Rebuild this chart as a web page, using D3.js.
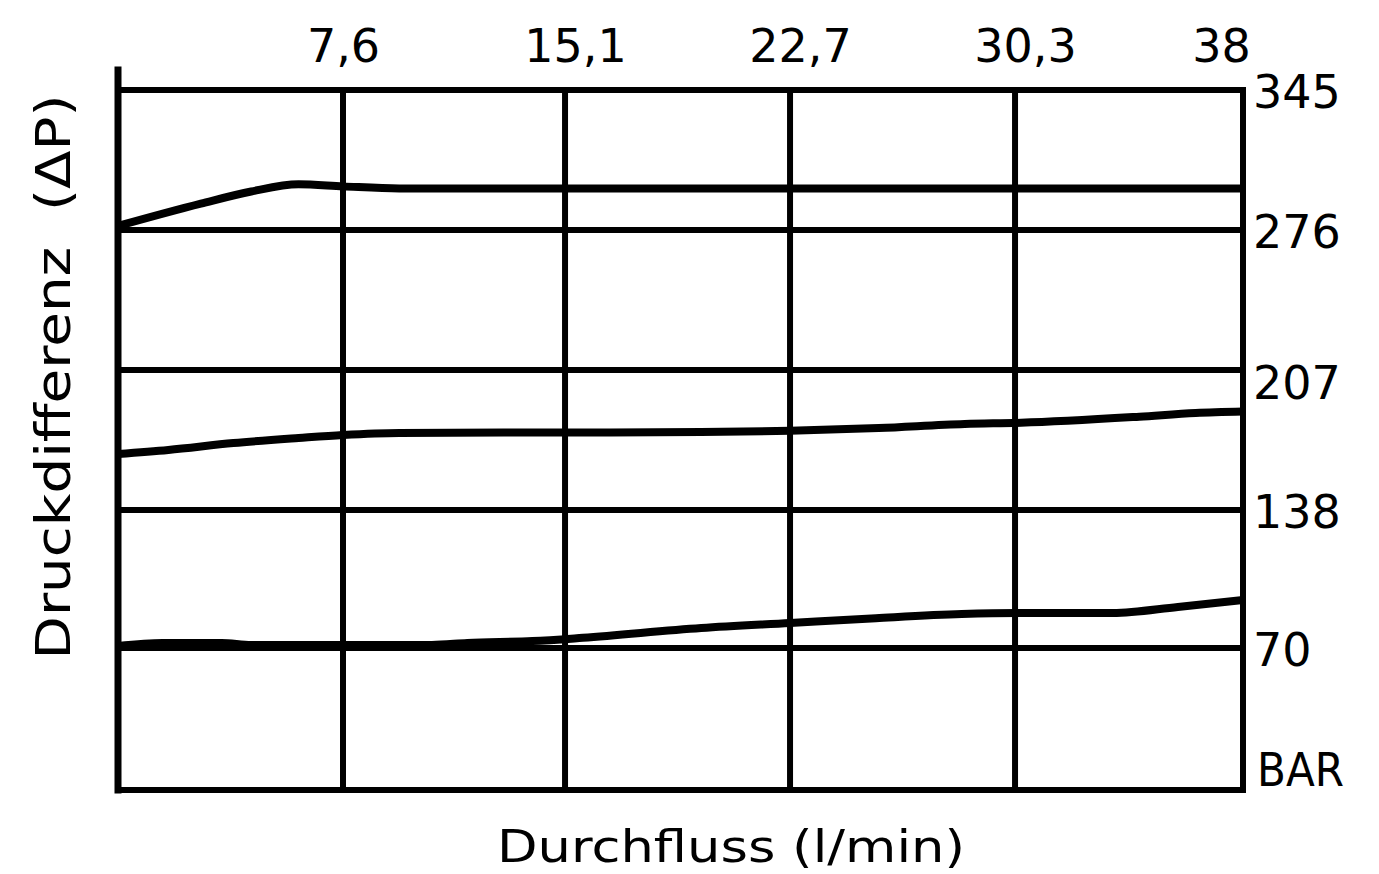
<!DOCTYPE html>
<html>
<head>
<meta charset="utf-8">
<script src="https://cdn.jsdelivr.net/npm/d3@7"></script>
<style>
  html, body { margin: 0; padding: 0; background: #fff; }
  svg { display: block; }
  text { font-family: "DejaVu Sans", sans-serif; fill: #000; }
</style>
</head>
<body>
<svg id="chart" width="1379" height="874"></svg>
<script>
// ---- data (flow in l/min, pressure difference in bar) ----
const xTickValues = [7.6, 15.1, 22.7, 30.3, 38];
const xTickLabels = ["7,6", "15,1", "22,7", "30,3", "38"];
const yTickValues = [0, 70, 138, 207, 276, 345];
const yTickLabels = ["BAR", "70", "138", "207", "276", "345"];

const upperFlow     = [0, 2.8, 4.5, 6.1, 7.6, 9.5, 15.1, 22.7, 30.3, 38];
const upperPressure = [278, 289, 295, 298.5, 297.5, 296.5, 296.5, 296.5, 296.5, 296.5];

const middleFlow     = [0, 1.7, 3.9, 6.1, 7.6, 9.5, 15.1, 19.7, 22.7, 25.7, 28.6, 30.5, 34.5, 36.4, 38];
const middlePressure = [165.6, 167.6, 171, 173.5, 175, 176, 176.2, 176.4, 177, 178.4, 180.4, 181, 184, 185.8, 186.5];

const lowerFlow     = [0, 1.5, 3.5, 4.5, 7.6, 10.6, 11.8, 14, 15.7, 19.7, 22.7, 25.6, 28.5, 30.5, 33.6, 35.8, 38];
const lowerPressure = [71, 72.5, 72.5, 71.5, 71.5, 71.5, 72.5, 73.4, 75, 79.8, 82.3, 84.7, 86.7, 87.2, 87.2, 90.2, 93.6];

const xTitle = "Durchfluss (l/min)";
const yTitle = "Druckdifferenz  (\u0394P)";

// ---- layout ----
const svg = d3.select("#chart");
const plotLeft = 118, plotRight = 1243, plotTop = 90, plotBottom = 790;

const x = d3.scaleLinear().domain([0, 38]).range([plotLeft, plotRight]);
const y = d3.scaleLinear().domain([0, 345]).range([plotBottom, plotTop]);

const grid = svg.append("g").attr("stroke", "#000").attr("stroke-width", 6).attr("stroke-linecap", "square");

// horizontal grid lines
grid.selectAll("line.h").data(yTickValues).enter().append("line")
  .attr("class", "h")
  .attr("x1", x(0)).attr("x2", x(38))
  .attr("y1", d => y(d)).attr("y2", d => y(d));

// vertical grid lines
grid.selectAll("line.v").data(xTickValues).enter().append("line")
  .attr("class", "v")
  .attr("x1", d => x(d)).attr("x2", d => x(d))
  .attr("y1", y(345)).attr("y2", y(0));

// left axis line (extends above the top)
grid.append("line")
  .attr("x1", x(0)).attr("x2", x(0))
  .attr("y1", y(345) - 20).attr("y2", y(0))
  .attr("stroke-width", 7);

// curves
const series = [
  { flow: upperFlow, pressure: upperPressure },
  { flow: middleFlow, pressure: middlePressure },
  { flow: lowerFlow, pressure: lowerPressure }
];
const line = d3.line().x(d => x(d[0])).y(d => y(d[1])).curve(d3.curveMonotoneX);
svg.append("g").selectAll("path").data(series).enter().append("path")
  .attr("d", s => line(s.flow.map((f, i) => [f, s.pressure[i]])))
  .attr("fill", "none")
  .attr("stroke", "#000")
  .attr("stroke-width", 8)
  .attr("stroke-linecap", "butt");

// top x-axis labels
const xAxis = d3.axisTop(x).tickValues(xTickValues)
  .tickFormat((d, i) => xTickLabels[i]).tickSize(0).tickPadding(0);
const gx = svg.append("g").attr("transform", `translate(0, 62)`).call(xAxis);
gx.select(".domain").remove();
gx.selectAll("text")
  .attr("font-family", "DejaVu Sans, sans-serif")
  .attr("font-size", 46)
  .attr("fill", "#000")
  .attr("dy", 0)
  .attr("dx", (d, i) => i === xTickValues.length - 1 ? -22 : (i === 0 ? 0 : 10));

// right y-axis labels
const yAxis = d3.axisRight(y).tickValues(yTickValues)
  .tickFormat((d, i) => yTickLabels[i]).tickSize(0).tickPadding(0);
const gy = svg.append("g").attr("transform", `translate(1253, 0)`).call(yAxis);
gy.select(".domain").remove();
gy.selectAll("text")
  .attr("font-family", "DejaVu Sans, sans-serif")
  .attr("font-size", 46)
  .attr("fill", "#000")
  .attr("text-anchor", "start")
  .attr("x", (d, i) => yTickLabels[i] === "BAR" ? 4 : 0)
  .attr("dy", (d, i) => yTickLabels[i] === "BAR" ? "-0.1em" : (d === 207 ? "0.62em" : "0.37em"))
  .each(function(d, i) {
    if (yTickLabels[i] === "BAR") {
      d3.select(this).attr("textLength", 87).attr("lengthAdjust", "spacingAndGlyphs");
    }
  });

// axis titles
svg.append("text")
  .attr("x", 731)
  .attr("y", 862)
  .attr("text-anchor", "middle")
  .attr("font-size", 44)
  .attr("textLength", 468)
  .attr("lengthAdjust", "spacingAndGlyphs")
  .text(xTitle);

svg.append("text")
  .attr("transform", "translate(70, 377) rotate(-90)")
  .attr("text-anchor", "middle")
  .attr("font-size", 48)
  .attr("textLength", 565)
  .attr("lengthAdjust", "spacingAndGlyphs")
  .style("white-space", "pre")
  .text(yTitle);
</script>
</body>
</html>
